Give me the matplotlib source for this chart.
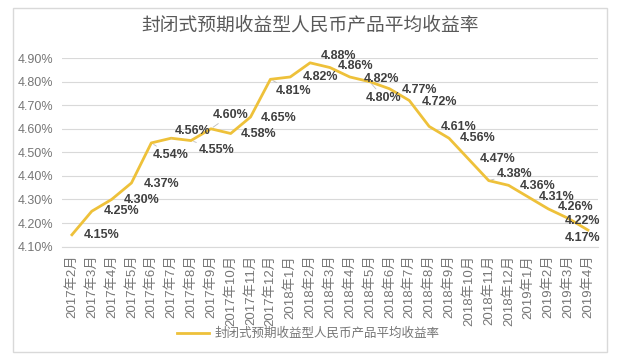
"""
Closed-end expected-return RMB products: average yield, Feb 2017 - Apr 2019.
"""

import matplotlib.pyplot as plt
from matplotlib.patches import Rectangle
from matplotlib.ticker import FuncFormatter

plt.rcParams["font.family"] = ["Liberation Sans", "Noto Sans CJK SC", "DejaVu Sans"]

title = "封闭式预期收益型人民币产品平均收益率"

months = (
    [f"2017年{m}月" for m in range(2, 13)]
    + [f"2018年{m}月" for m in range(1, 13)]
    + [f"2019年{m}月" for m in range(1, 5)]
)
yields = [
    4.15, 4.25, 4.30, 4.37, 4.54, 4.56, 4.55, 4.60, 4.58, 4.65, 4.81,
    4.82, 4.88, 4.86, 4.82, 4.80, 4.77, 4.72, 4.61, 4.56, 4.47, 4.38,
    4.36, 4.31, 4.26, 4.22, 4.17,
]
y_ticks = [4.10, 4.20, 4.30, 4.40, 4.50, 4.60, 4.70, 4.80, 4.90]

# label offsets in pixels (dx right, dy down) - the labels are scattered in the original
label_offsets = [
    (30, 0), (30, 0), (30, 1), (30, 1), (19, 12), (21, -7), (26, 9), (20, -14),
    (28, 1), (28, 1), (23, 12), (30, 0), (28, -7), (26, -2), (32, 2), (14, 16),
    (30, 1), (30, 1), (29, 1), (29, 0), (29, 0), (26, -7), (29, 1), (28, 0),
    (27, -2), (14, 3), (-5, 8),
]
leader = {4, 5, 6, 7, 10, 15, 21}

line_color = "#EEC13A"
title_gray = "#595959"
tick_gray = "#767676"

fig = plt.figure(figsize=(6.3, 3.61), dpi=100)
fig.patches.append(
    Rectangle((0.021, 0.025), 0.943, 0.953, transform=fig.transFigure,
              fill=False, edgecolor="#d9d9d9", linewidth=1.0)
)
ax = fig.add_axes([0.0984, 0.317, 0.8506, 0.522])

x = list(range(len(months)))
ax.plot(x, yields, color=line_color, linewidth=2.0, label=title, zorder=3)

for i, (v, (dx, dy)) in enumerate(zip(yields, label_offsets)):
    kw = {}
    if i in leader:
        kw["arrowprops"] = dict(arrowstyle="-", color="#bbbbbb", lw=0.6,
                                shrinkA=0, shrinkB=2)
    ax.annotate(f"{v:.2f}%", (i, v), xytext=(dx, -dy), textcoords="offset pixels",
                ha="center", va="center", fontsize=9, fontweight="bold",
                color="#404040", zorder=4, **kw)

ax.set_xlim(-0.5, len(months) - 0.5)
ax.set_ylim(4.10, 4.90)
ax.set_yticks(y_ticks)
ax.yaxis.set_major_formatter(FuncFormatter(lambda v, _: f"{v:.2f}%"))
ax.set_xticks(x)
ax.set_xticklabels(months, rotation=90, fontsize=9.5, color=tick_gray)
ax.tick_params(axis="y", labelsize=9, labelcolor=tick_gray, length=0, pad=6)
ax.tick_params(axis="x", length=0, pad=6)
ax.grid(axis="y", color="#d9d9d9", linewidth=0.8)
ax.set_axisbelow(True)
for side in ["top", "right", "left"]:
    ax.spines[side].set_visible(False)
ax.spines["bottom"].set_color("#d9d9d9")

fig.text(0.492, 0.928, title, ha="center", va="center", fontsize=13.5, color=title_gray)

fig.legend(loc="center", bbox_to_anchor=(0.49, 0.075), frameon=False,
           fontsize=9, labelcolor=tick_gray, handlelength=2.5, handletextpad=0.5)

fig.savefig("out.png", dpi=100)
